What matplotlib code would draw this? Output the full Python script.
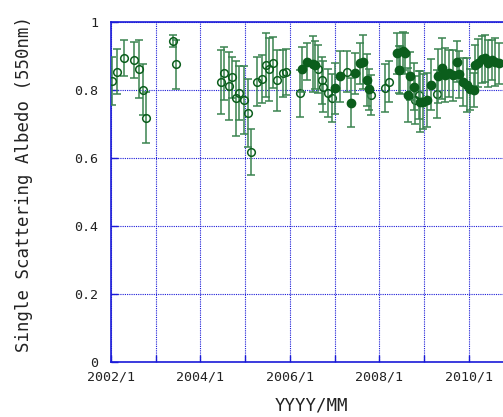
import numpy as np
import matplotlib
matplotlib.use('Agg')
import matplotlib.pyplot as plt

# open circles (decimal year, albedo, error)
open_year = [2002.02, 2002.13, 2002.29, 2002.52, 2002.62, 2002.71, 2002.78,
             2003.38, 2003.45,
             2004.46, 2004.53, 2004.64, 2004.70, 2004.80, 2004.86, 2004.97,
             2005.06, 2005.13, 2005.27, 2005.37, 2005.47, 2005.54, 2005.63,
             2005.71, 2005.85, 2005.91,
             2006.23, 2006.64, 2006.71, 2006.75, 2006.86, 2006.94,
             2007.27, 2007.81, 2008.13, 2008.23, 2008.47, 2008.80, 2008.88,
             2009.29]
open_ssa = [0.826, 0.854, 0.893, 0.888, 0.861, 0.800, 0.719,
            0.944, 0.876,
            0.824, 0.849, 0.812, 0.837, 0.776, 0.792, 0.770,
            0.733, 0.618, 0.824, 0.832, 0.873, 0.861, 0.880,
            0.829, 0.849, 0.854,
            0.790, 0.861, 0.828, 0.810, 0.792, 0.776,
            0.854, 0.785, 0.805, 0.824, 0.859, 0.770, 0.785,
            0.788]
open_err = [0.070, 0.066, 0.053, 0.052, 0.085, 0.075, 0.074,
            0.017, 0.072,
            0.094, 0.078, 0.100, 0.060, 0.110, 0.080, 0.100,
            0.100, 0.067, 0.072, 0.070, 0.095, 0.093, 0.075,
            0.090, 0.070, 0.068,
            0.068, 0.070, 0.070, 0.075, 0.070, 0.070,
            0.060, 0.060, 0.070, 0.060, 0.070, 0.070, 0.070,
            0.070]

# filled circles
fill_year = [2006.27, 2006.38, 2006.51, 2006.56, 2007.01, 2007.12, 2007.36,
             2007.46, 2007.56, 2007.63, 2007.72, 2007.78,
             2008.39, 2008.45, 2008.53, 2008.58, 2008.65, 2008.70, 2008.77,
             2008.91, 2008.99, 2009.06, 2009.17, 2009.32, 2009.40, 2009.47,
             2009.57, 2009.66, 2009.73, 2009.79, 2009.87, 2009.96, 2010.03,
             2010.11, 2010.14, 2010.22, 2010.29, 2010.37, 2010.44, 2010.52,
             2010.59, 2010.67]
fill_ssa = [0.861, 0.883, 0.876, 0.873, 0.805, 0.841, 0.763,
            0.849, 0.878, 0.883, 0.829, 0.802,
            0.908, 0.860, 0.916, 0.908, 0.785, 0.841, 0.810,
            0.766, 0.766, 0.770, 0.815, 0.841, 0.864, 0.844,
            0.849, 0.844, 0.883, 0.846, 0.824, 0.815, 0.802,
            0.800, 0.873, 0.880, 0.890, 0.893, 0.878, 0.888,
            0.883, 0.878]
fill_err = [0.066, 0.055, 0.083, 0.070, 0.075, 0.075, 0.072,
            0.060, 0.060, 0.080, 0.077, 0.060,
            0.060, 0.070, 0.056, 0.060, 0.080, 0.070, 0.070,
            0.090, 0.080, 0.080, 0.075, 0.080, 0.090, 0.080,
            0.070, 0.075, 0.060, 0.070, 0.070, 0.080, 0.060,
            0.050, 0.060, 0.070, 0.070, 0.070, 0.070, 0.060,
            0.070, 0.060]

year_ticks = [2002, 2004, 2006, 2008, 2010]
year_labels = ['2002/1', '2004/1', '2006/1', '2008/1', '2010/1']
ssa_ticks = [0, 0.2, 0.4, 0.6, 0.8, 1.0]
ssa_labels = ['0', '0.2', '0.4', '0.6', '0.8', '1']

green = '#0b5e1c'
bar_green = '#3a8450'
blue = '#1a1ad8'
mono = ['DejaVu Sans Mono']

fig = plt.figure(figsize=(5.03, 4.17), dpi=100)
ax = fig.add_axes([111 / 503, 55 / 417, 400 / 503, 340 / 417])

ax.errorbar(open_year, open_ssa, yerr=open_err, fmt='o', mfc='none', mec=green,
            ms=5.5, mew=1.1, ecolor=bar_green, elinewidth=1.1, capsize=3,
            capthick=1.1, zorder=3)
ax.errorbar(fill_year, fill_ssa, yerr=fill_err, fmt='o', mfc=green, mec=green,
            ms=6, ecolor=bar_green, elinewidth=1.1, capsize=3, capthick=1.1,
            zorder=4)

ax.set_xlim(2002, 2002 + 400 / 44.7)
ax.set_ylim(0, 1)
ax.set_xticks(year_ticks)
ax.set_xticklabels(year_labels)
ax.set_xticks(np.arange(2003, 2011, 2), minor=True)
ax.set_yticks(ssa_ticks)
ax.set_yticklabels(ssa_labels)

ax.grid(True, which='both', color=blue, linestyle=(0, (1, 1)), linewidth=0.8)
ax.set_axisbelow(True)
for s in ax.spines.values():
    s.set_color(blue)
    s.set_linewidth(1.2)
ax.tick_params(which='both', direction='in', length=5, color=blue, width=1,
               labelcolor='#222222')
ax.tick_params(axis='x', pad=6)
ax.tick_params(axis='y', pad=9)
for lab in ax.get_xticklabels() + ax.get_yticklabels():
    lab.set_family(mono)
    lab.set_fontsize(9.6)

ax.set_xlabel('YYYY/MM', family=mono, fontsize=12.5, color='#222222',
              va='center')
ax.xaxis.set_label_coords((311 - 111) / 400, (362 - 406) / 340)
ax.set_ylabel('Single Scattering Albedo (550nm)', family=mono,
              fontsize=12.5, color='#222222', va='center')
ax.yaxis.set_label_coords((24 - 111) / 400, (362 - 184) / 340)

fig.savefig('out.png', dpi=100)
